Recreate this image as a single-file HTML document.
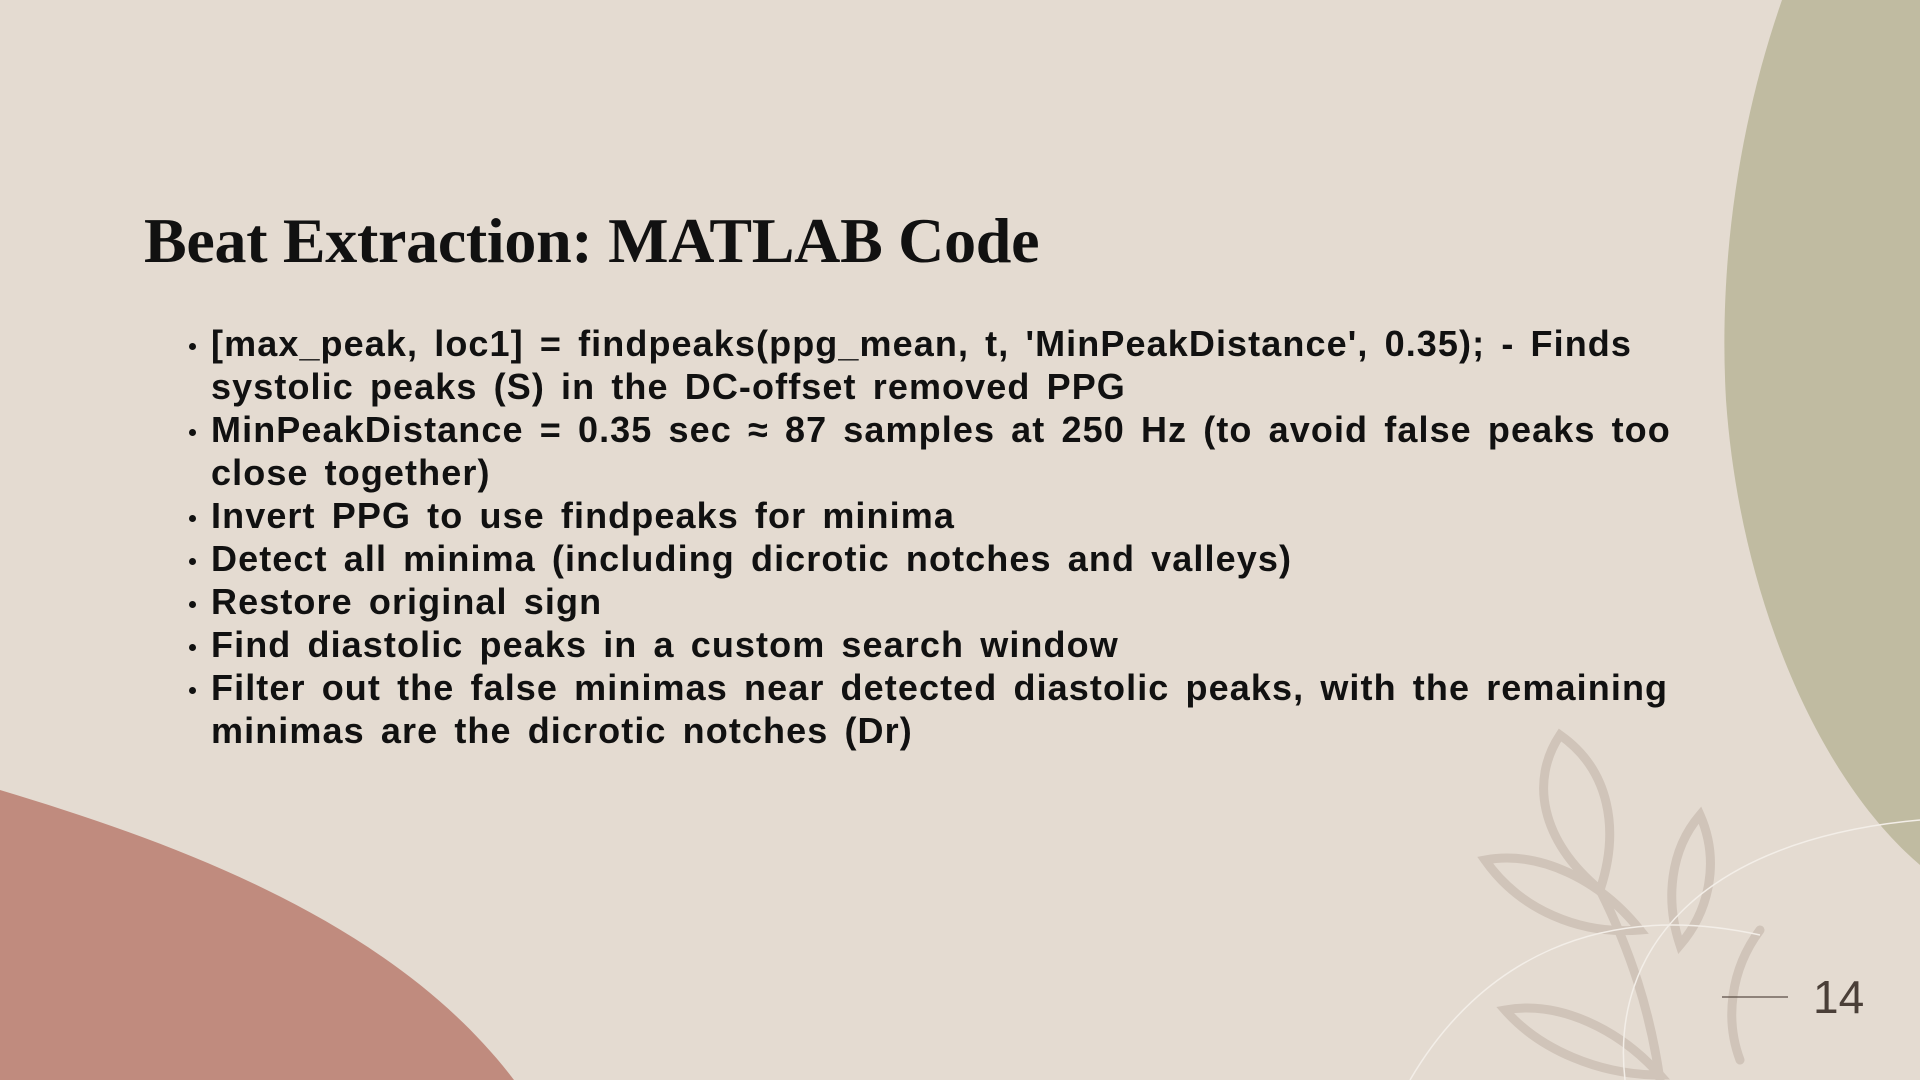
<!DOCTYPE html>
<html><head><meta charset="utf-8"><style>
html,body{margin:0;padding:0}
body{width:1920px;height:1080px;position:relative;overflow:hidden;background:#E4DBD1;}
svg{position:absolute;left:0;top:0}
h1{position:absolute;left:144px;top:204px;margin:0;font-family:"Liberation Serif",serif;font-weight:bold;font-size:64px;color:#111;letter-spacing:-0.3px;white-space:nowrap}
ul{position:absolute;left:211px;top:322px;margin:0;padding:0;width:1600px;font-family:"Liberation Sans",sans-serif;font-weight:bold;font-size:36px;line-height:43px;color:#111;list-style:none;letter-spacing:1.1px;word-spacing:5px;white-space:nowrap}
li{position:relative}
li:before{content:"";position:absolute;left:-22px;top:21px;width:7px;height:7px;border-radius:50%;background:#111}
.pn{position:absolute;left:1813px;top:970px;font-family:"Liberation Sans",sans-serif;font-size:46px;color:#4a3f38}
</style></head><body>
<svg width="1920" height="1080" viewBox="0 0 1920 1080">
<path d="M1782 0 C1740 120 1718 260 1726 400 C1740 600 1820 780 1920 865 L1920 0 Z" fill="#C0BBA1"/>
<path d="M0 790 C200 850 400 930 514 1080 L0 1080 Z" fill="#C08B7E"/>
<g fill="none" stroke="#D0C4B9" stroke-width="9" stroke-linecap="round">
<path d="M1560 735 C1530 780 1540 840 1600 890 C1620 830 1610 770 1560 735 Z"/>
<path d="M1600 890 C1630 950 1650 1010 1660 1080"/>
<path d="M1485 860 C1540 850 1600 880 1640 930 C1580 935 1520 910 1485 860 Z"/>
<path d="M1700 815 C1670 850 1665 900 1680 945 C1710 910 1720 860 1700 815 Z"/>
<path d="M1760 930 C1730 970 1725 1020 1740 1060"/>
<path d="M1505 1010 C1560 1000 1620 1030 1660 1075 C1600 1075 1540 1050 1505 1010 Z"/>
</g>
<g fill="none" stroke="#F3EEE8" stroke-width="1.5">
<path d="M1410 1080 C1480 960 1600 900 1760 935"/>
<path d="M1625 1080 C1610 950 1700 840 1920 820"/>
</g>
<line x1="1722" y1="997" x2="1788" y2="997" stroke="#5a4e46" stroke-width="1.3"/>
</svg>
<h1>Beat Extraction: MATLAB Code</h1>
<ul>
<li>[max_peak, loc1] = findpeaks(ppg_mean, t, 'MinPeakDistance', 0.35); - Finds<br>systolic peaks (S) in the DC-offset removed PPG</li>
<li>MinPeakDistance = 0.35 sec ≈ 87 samples at 250 Hz (to avoid false peaks too<br>close together)</li>
<li>Invert PPG to use findpeaks for minima</li>
<li>Detect all minima (including dicrotic notches and valleys)</li>
<li>Restore original sign</li>
<li>Find diastolic peaks in a custom search window</li>
<li>Filter out the false minimas near detected diastolic peaks, with the remaining<br>minimas are the dicrotic notches (Dr)</li>
</ul>
<div class="pn">14</div>
</body></html>
